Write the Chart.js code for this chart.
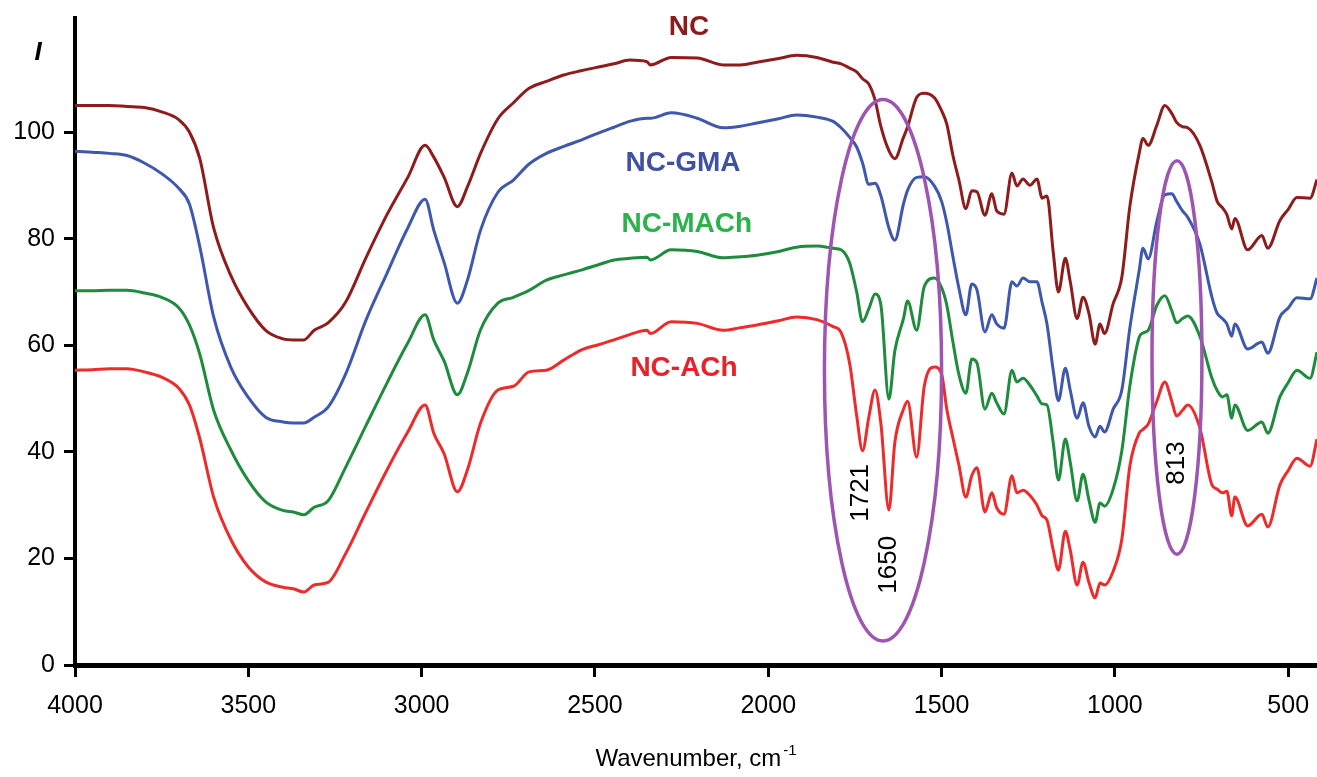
<!DOCTYPE html>
<html>
<head>
<meta charset="utf-8">
<script src="https://cdn.jsdelivr.net/npm/chart.js@4.4.0/dist/chart.umd.min.js"></script>
<style>
  html, body { margin: 0; padding: 0; background: #fff; }
  #wrap { width: 1317px; height: 777px; }
</style>
</head>
<body>
<div id="wrap"><canvas id="ftir"></canvas></div>
<script>
// wavenumber grid (cm-1)
const wavenumbers = [4000, 3950, 3900, 3850, 3800, 3750, 3700, 3670, 3640, 3600,
  3550, 3500, 3450, 3400, 3370, 3340, 3310, 3270, 3220, 3160,
  3100, 3040, 2990, 2965, 2935, 2897, 2868, 2830, 2780, 2735,
  2690, 2640, 2590, 2540, 2490, 2445, 2400, 2350, 2340, 2280,
  2205, 2130, 2080, 2033, 1970, 1918, 1860, 1813, 1790, 1765,
  1745, 1728, 1710, 1692, 1675, 1652, 1635, 1610, 1598, 1572,
  1550, 1520, 1500, 1485, 1467, 1450, 1430, 1413, 1398, 1375,
  1355, 1341, 1320, 1297, 1283, 1265, 1245, 1225, 1210, 1196,
  1178, 1163, 1143, 1129, 1109, 1092, 1075, 1057, 1043, 1030,
  1005, 980, 957, 930, 919, 904, 879, 856, 836, 822,
  805, 790, 755, 720, 705, 690, 677, 663, 654, 617,
  576, 559, 524, 500, 475, 437, 417];

const ncValues = [105, 105, 105, 104.8, 104.6, 103.8, 102.3, 100, 95, 82,
  73, 67, 62.8, 61.2, 61, 61, 62.8, 64.2, 68, 76.5,
  84.5, 91.5, 97.5, 95.3, 91.5, 86, 89.7, 96, 102.5, 105.5,
  108.2, 109.5, 110.7, 111.5, 112.2, 112.8, 113.5, 113.2, 112.6, 114,
  113.9, 112.6, 112.6, 113.1, 113.8, 114.4, 114, 113.1, 112.8, 112,
  111.3, 110, 109, 106, 101, 96.5, 95, 99, 101, 106.5,
  107.3, 106.4, 104, 101.5, 95.5, 91, 85.6, 89, 88.8, 84.4,
  88.4, 85.2, 84.6, 92.3, 89.9, 91.2, 90, 91.2, 87.6, 88,
  77.5, 70, 76.3, 72, 65, 69, 66, 60.2, 64, 62.2,
  67.8, 72.8, 86, 96, 98.8, 97.5, 101.3, 105, 103.5, 101.8,
  101, 100.8, 97.5, 90.5, 87, 85.8, 84.5, 81.8, 83.8, 77.9,
  80.6, 78.2, 83.4, 85.5, 87.7, 87.6, 91.1];

const gmaValues = [96.4, 96.2, 96, 95.6, 94.2, 92.2, 89.4, 86.5, 78.5, 65.3,
  55.8, 50.2, 46.5, 45.6, 45.4, 45.4, 46.5, 48.4, 54.5, 64.8,
  73.5, 82, 87.4, 81.6, 75.5, 67.9, 72.2, 81.6, 88.7, 91,
  94, 96, 97.3, 98.5, 99.8, 100.9, 102, 102.6, 102.6, 103.6,
  102.6, 100.8, 101.1, 101.7, 102.5, 103.2, 102.8, 102, 100.8, 99,
  97.2, 94.2, 90.2, 90.4, 88, 82, 79.7, 86.5, 89.1, 91.5,
  91.6, 89.8, 87, 83, 76.5, 70.7, 65.7, 71.5, 70.4, 62.5,
  65.7, 64, 63.2, 71.9, 71.1, 72.6, 71.9, 71.9, 68, 64,
  55.3, 49.6, 55.7, 51.6, 46.3, 49.2, 44.8, 42.8, 44.8, 43.7,
  48, 51.6, 63.2, 74, 78.2, 76.2, 83.3, 88.2, 88.4, 87,
  85.2, 84, 79, 69, 66, 65, 64, 61.7, 64, 59.3,
  60.6, 58.5, 65.3, 67, 68.9, 68.7, 72.6];

const machValues = [70.2, 70.2, 70.3, 70.3, 69.8, 69, 67, 63.8, 58.3, 47.8,
  40.3, 34.6, 30.6, 29, 28.7, 28.2, 29.6, 30.8, 37, 45,
  52.9, 60.4, 65.7, 61, 57, 50.7, 54.8, 62.9, 67.9, 69,
  70.3, 72.2, 73.2, 74.1, 75.1, 76, 76.3, 76.5, 76, 77.9,
  77.6, 76.4, 76.6, 76.9, 77.6, 78.4, 78.6, 78.2, 77.9, 75.4,
  70, 64.4, 66.8, 69.6, 67.5, 49.9, 58.9, 65, 68.3, 62.8,
  71, 72.6, 70.8, 67.5, 60.5, 54.5, 51, 57.4, 56.7, 48,
  51, 49.2, 47.1, 55.3, 53.1, 53.8, 52.5, 50.5, 49, 48.8,
  41.7, 34.7, 42.4, 38.1, 30.8, 35.8, 31, 26.8, 30.4, 29.8,
  33, 40.2, 52.3, 61.5, 62.3, 62.8, 67.5, 69.3, 66.5, 64.2,
  65, 65.5, 61.7, 53.8, 51.5, 50.3, 50.7, 46.3, 48.8, 44,
  45.6, 43.5, 50.3, 53, 55.3, 53.8, 58.7];

const achValues = [55.3, 55.4, 55.6, 55.6, 55, 54, 51.9, 48.8, 42.5, 31.5,
  23.5, 18.4, 15.6, 14.6, 14.3, 13.7, 15, 15.5, 20.8, 28.8,
  36.6, 43.7, 48.8, 43.5, 39.6, 32.5, 36.6, 45.4, 51.6, 52.3,
  55, 55.3, 57.2, 59.1, 60.1, 61, 62, 62.8, 62.2, 64.4,
  64.1, 62.8, 63.3, 63.8, 64.6, 65.3, 64.8, 63.5, 62.4, 56.5,
  46.8, 40.2, 46.5, 51.6, 45.2, 29.1, 41.7, 48, 49.5, 39,
  52.3, 55.9, 54.6, 48, 42.5, 37.5, 31.5, 35.5, 37, 28.7,
  32.3, 29.5, 28.3, 35.5, 32.3, 32.8, 31.8, 30, 28, 27.2,
  21.6, 17.8, 25.1, 21.6, 15, 19.3, 15.5, 12.6, 15.4, 15,
  17.6, 23.6, 37.3, 43.5, 44.2, 45.2, 49.5, 53.1, 49.5, 46.7,
  47.8, 48.8, 44.5, 33.8, 33, 32.3, 32.6, 28, 31.5, 26.1,
  28.3, 25.9, 33.8, 36.5, 38.8, 37.3, 42.4];

const seriesNames = ["NC", "NC-GMA", "NC-MACh", "NC-ACh"];
const xTicks = [4000, 3500, 3000, 2500, 2000, 1500, 1000, 500];
const yTicks = [0, 20, 40, 60, 80, 100];

const lineColors = ["#8e1c1c", "#3d58ad", "#1f8b3d", "#ee2b2b"];
const textColors = ["#8b1c1c", "#4050a3", "#2bb24c", "#e8222a"];
const FONT = "'Liberation Sans', Arial, sans-serif";

// where the curve names sit (wavenumber, intensity)
const nameSpots = [[2229, 119.7], [2246, 94.2], [2235, 82.7], [2243, 55.7]];

// band marks: ellipse centre and half sizes in axis units
const rings = [
  { wn: 1669, val: 55.3, dw: 169, dv: 50.8 },
  { wn: 821, val: 57.7, dw: 72, dv: 36.9 }
];
const bandLabels = [
  { text: "1721", wn: 1733, val: 32.3 },
  { text: "1650", wn: 1652, val: 18.8 },
  { text: "813", wn: 821, val: 37.9 }
];

function toPoints(vals) {
  return wavenumbers.map((w, i) => ({ x: w, y: vals[i] }));
}

const allValues = [ncValues, gmaValues, machValues, achValues];

const extras = {
  id: "extras",
  afterDatasetsDraw(chart) {
    const ctx = chart.ctx;
    const x = chart.scales.x, y = chart.scales.y;
    const area = chart.chartArea;
    ctx.save();

    // ellipses
    ctx.strokeStyle = "#9d55b1";
    ctx.lineWidth = 3.5;
    rings.forEach(r => {
      let cx = x.getPixelForValue(r.wn), cy = y.getPixelForValue(r.val);
      let rx = Math.abs(x.getPixelForValue(r.wn - r.dw) - cx);
      let ry = Math.abs(y.getPixelForValue(r.val + r.dv) - cy);
      ctx.beginPath();
      ctx.ellipse(cx, cy, rx, ry, 0, 0, Math.PI * 2);
      ctx.stroke();
    });

    // band numbers, rotated
    ctx.fillStyle = "#000";
    ctx.font = "26px " + FONT;
    ctx.textAlign = "center";
    ctx.textBaseline = "middle";
    bandLabels.forEach(b => {
      ctx.save();
      ctx.translate(x.getPixelForValue(b.wn), y.getPixelForValue(b.val));
      ctx.rotate(-Math.PI / 2);
      ctx.fillText(b.text, 0, 0);
      ctx.restore();
    });

    // curve names
    ctx.font = "bold 28px " + FONT;
    seriesNames.forEach((name, i) => {
      ctx.fillStyle = textColors[i];
      ctx.fillText(name, x.getPixelForValue(nameSpots[i][0]), y.getPixelForValue(nameSpots[i][1]));
    });

    // y axis letter
    ctx.fillStyle = "#000";
    ctx.font = "italic bold 26px " + FONT;
    ctx.fillText("I", 38, 53);

    // x axis title with superscript
    let main = "Wavenumber, cm", sup = "-1";
    ctx.font = "24px " + FONT;
    let w1 = ctx.measureText(main).width;
    ctx.font = "15px " + FONT;
    let w2 = ctx.measureText(sup).width;
    let startX = (area.left + area.right) / 2 - (w1 + w2 + 2) / 2;
    ctx.textAlign = "left";
    ctx.textBaseline = "alphabetic";
    ctx.font = "24px " + FONT;
    ctx.fillText(main, startX, 766);
    ctx.font = "15px " + FONT;
    ctx.fillText(sup, startX + w1 + 2, 755);

    ctx.restore();
  }
};

new Chart(document.getElementById("ftir"), {
  type: "line",
  data: {
    datasets: seriesNames.map((name, i) => ({
      label: name,
      data: toPoints(allValues[i]),
      borderColor: lineColors[i],
      borderWidth: 3,
      pointRadius: 0,
      fill: false,
      cubicInterpolationMode: "monotone"
    }))
  },
  options: {
    responsive: true,
    maintainAspectRatio: false,
    animation: false,
    devicePixelRatio: 1,
    layout: { padding: { top: 18, right: 0, left: 0, bottom: 0 } },
    plugins: {
      legend: { display: false },
      tooltip: { enabled: false }
    },
    scales: {
      x: {
        type: "linear",
        reverse: true,
        min: 417,
        max: 4000,
        afterBuildTicks: s => { s.ticks = xTicks.map(v => ({ value: v })); },
        afterFit: s => { s.height = 112; s.paddingLeft = 0; s.paddingRight = 0; },
        border: { display: true, color: "#000", width: 5 },
        grid: { display: true, drawOnChartArea: false, drawTicks: true, tickLength: 12, tickWidth: 3, tickColor: "#000", color: "#000" },
        ticks: { color: "#000", font: { family: FONT, size: 25 }, padding: 14, autoSkip: false, maxRotation: 0, callback: v => String(v) }
      },
      y: {
        min: 0,
        max: 121.4,
        afterBuildTicks: s => { s.ticks = yTicks.map(v => ({ value: v })); },
        afterFit: s => { s.width = 75; s.paddingTop = 0; s.paddingBottom = 0; },
        border: { display: true, color: "#000", width: 4 },
        grid: { display: true, drawOnChartArea: false, drawTicks: true, tickLength: 11, tickWidth: 3, tickColor: "#000", color: "#000" },
        ticks: { color: "#000", font: { family: FONT, size: 25 }, padding: 9, callback: v => String(v) }
      }
    }
  },
  plugins: [extras]
});
</script>
</body>
</html>
